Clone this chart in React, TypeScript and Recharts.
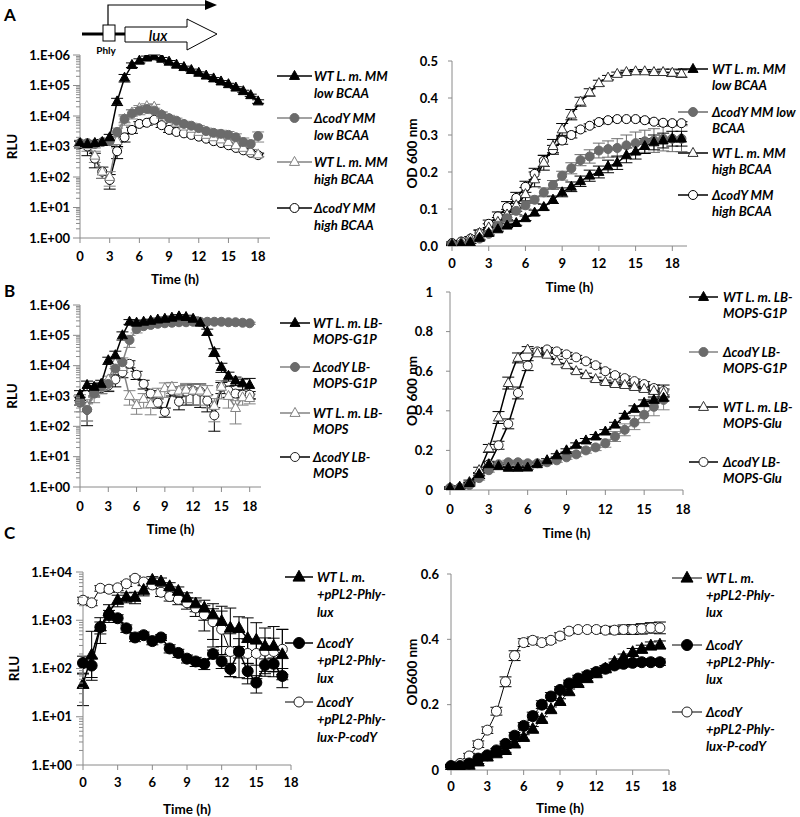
import React from "react";
import { LineChart, Line, XAxis, YAxis, ErrorBar } from "recharts";

// time points (h)
const timeA = [0, 0.75, 1.5, 2.25, 3, 3.75, 4.5, 5.25, 6, 6.75, 7.5, 8.25, 9, 9.75, 10.5, 11.25, 12, 12.75, 13.5, 14.25, 15, 15.75, 16.5, 17.25, 18];
const timeAOd = [0, 0.75, 1.5, 2.25, 3, 3.75, 4.5, 5.25, 6, 6.75, 7.5, 8.25, 9, 9.75, 10.5, 11.25, 12, 12.75, 13.5, 14.25, 15, 15.75, 16.5, 17.25, 18, 18.75];
const timeBOd = [0, 0.75, 1.5, 2.25, 3, 3.75, 4.5, 5.25, 6, 6.75, 7.5, 8.25, 9, 9.75, 10.5, 11.25, 12, 12.75, 13.5, 14.25, 15, 15.75, 16.5];
const timeC = [0, 0.75, 1.5, 2.25, 3, 3.75, 4.5, 5.25, 6, 6.75, 7.5, 8.25, 9, 9.75, 10.5, 11.25, 12, 12.75, 13.5, 14.25, 15, 15.75, 16.5, 17.25];

// A - RLU
const aRluWtLow = [1300, 1200, 1300, 1400, 2000, 30000, 180000, 470000, 650000, 820000, 900000, 750000, 600000, 480000, 400000, 320000, 260000, 210000, 170000, 135000, 110000, 85000, 65000, 48000, 30000];
const aRluCodyLow = [1300, 1300, 1200, 1400, 1500, 3000, 8000, 12000, 15000, 17000, 15000, 11000, 8500, 7000, 5500, 4800, 4000, 3200, 2800, 2600, 2400, 2000, 1400, 1200, 2200];
const aRluWtHigh = [1200, 1100, 500, 150, 100, 1500, 8000, 13000, 18000, 21000, 20000, 11000, 8000, 6000, 4500, 3800, 3000, 2400, 2000, 1700, 1400, 1100, 900, 700, 550];
const aRluCodyHigh = [1200, 1000, 400, 150, 80, 700, 2000, 3500, 5500, 6000, 7500, 5000, 3500, 3000, 2700, 2400, 2100, 1800, 1500, 1300, 1100, 900, 750, 620, 520];
const aErrWtLow = [200, 200, 200, 300, 500, 8000, 50000, 80000, 100000, 100000, 100000, 80000, 60000, 40000, 30000, 25000, 20000, 15000, 12000, 10000, 8000, 6000, 5000, 4000, 4000];
const aErrCodyLow = [300, 300, 300, 300, 400, 1000, 3000, 4000, 4000, 4000, 3000, 2500, 2000, 1500, 1200, 1000, 900, 800, 700, 800, 700, 600, 500, 400, 800];
const aErrWtHigh = [300, 400, 200, 60, 50, 600, 2000, 3000, 4000, 4000, 4000, 2500, 1500, 1000, 700, 600, 500, 400, 300, 250, 200, 150, 120, 100, 80];
const aErrCodyHigh = [300, 500, 200, 60, 40, 300, 600, 800, 1000, 1000, 1000, 800, 600, 400, 300, 300, 250, 200, 150, 150, 120, 100, 80, 70, 60];

// A - OD
const aOdWtLow = [0.003, 0.005, 0.01, 0.022, 0.035, 0.045, 0.055, 0.062, 0.075, 0.09, 0.105, 0.125, 0.145, 0.16, 0.175, 0.19, 0.2, 0.215, 0.225, 0.245, 0.255, 0.27, 0.28, 0.285, 0.29, 0.29];
const aOdCodyLow = [0.005, 0.005, 0.01, 0.02, 0.033, 0.055, 0.075, 0.095, 0.11, 0.125, 0.145, 0.165, 0.19, 0.21, 0.232, 0.242, 0.258, 0.262, 0.265, 0.272, 0.278, 0.283, 0.285, 0.29, 0.29, 0.29];
const aOdWtHigh = [0.005, 0.01, 0.02, 0.035, 0.05, 0.065, 0.085, 0.11, 0.14, 0.18, 0.225, 0.27, 0.315, 0.355, 0.39, 0.415, 0.44, 0.455, 0.465, 0.47, 0.472, 0.472, 0.47, 0.47, 0.468, 0.466];
const aOdCodyHigh = [0.008, 0.012, 0.02, 0.035, 0.06, 0.08, 0.105, 0.13, 0.16, 0.195, 0.23, 0.26, 0.285, 0.3, 0.315, 0.325, 0.335, 0.34, 0.343, 0.343, 0.343, 0.34, 0.336, 0.333, 0.332, 0.332];
const aOdErrWtLow = [0.002, 0.002, 0.003, 0.004, 0.005, 0.005, 0.005, 0.006, 0.006, 0.007, 0.008, 0.01, 0.012, 0.013, 0.014, 0.015, 0.016, 0.017, 0.018, 0.02, 0.02, 0.02, 0.02, 0.02, 0.02, 0.02];
const aOdErrCodyLow = [0.003, 0.003, 0.003, 0.005, 0.006, 0.008, 0.01, 0.01, 0.01, 0.01, 0.012, 0.012, 0.012, 0.015, 0.015, 0.018, 0.02, 0.022, 0.025, 0.028, 0.03, 0.03, 0.032, 0.033, 0.035, 0.035];
const aOdErrWtHigh = [0.003, 0.003, 0.005, 0.008, 0.01, 0.012, 0.014, 0.016, 0.018, 0.02, 0.02, 0.018, 0.016, 0.014, 0.012, 0.01, 0.008, 0.006, 0.005, 0.005, 0.005, 0.005, 0.006, 0.008, 0.01, 0.01];
const aOdErrCodyHigh = [0.003, 0.003, 0.005, 0.008, 0.01, 0.012, 0.015, 0.015, 0.015, 0.015, 0.015, 0.012, 0.01, 0.008, 0.006, 0.005, 0.005, 0.004, 0.004, 0.004, 0.004, 0.004, 0.004, 0.004, 0.004, 0.004];

// B - RLU
const bRluWtG1p = [1100, 2300, 2000, 2500, 15000, 22000, 100000, 280000, 260000, 280000, 300000, 330000, 350000, 380000, 420000, 400000, 350000, 260000, 130000, 28000, 9000, 4600, 3200, 2600, 2300];
const bRluCodyG1p = [600, 350, 1200, 2000, 2500, 8000, 13000, 70000, 160000, 200000, 220000, 240000, 250000, 260000, 270000, 270000, 280000, 280000, 280000, 280000, 280000, 270000, 270000, 260000, 250000];
const bRluWtMops = [800, 450, 1500, 2000, 3500, 12000, 9000, 1000, 500, 800, 540, 1200, 1800, 2000, 1500, 1600, 1500, 1500, 1300, 470, 2000, 1000, 400, 900, 850];
const bRluCodyMops = [700, 350, 1500, 1800, 2200, 3500, 6000, 11500, 5000, 2500, 1200, 600, 300, 1500, 650, 1400, 1500, 1400, 700, 230, 2000, 1500, 1200, 1100, 1100];
const bErrWtG1p = [400, 800, 600, 800, 4000, 8000, 30000, 50000, 40000, 40000, 40000, 40000, 50000, 50000, 60000, 60000, 50000, 50000, 30000, 8000, 3000, 1500, 1000, 1000, 1500];
const bErrCodyG1p = [300, 200, 600, 800, 1000, 4000, 5000, 30000, 40000, 30000, 20000, 20000, 20000, 20000, 20000, 20000, 20000, 20000, 20000, 20000, 20000, 20000, 20000, 20000, 20000];
const bErrWtMops = [300, 300, 600, 800, 1000, 4000, 3000, 500, 250, 400, 300, 600, 900, 800, 500, 1000, 1000, 1000, 900, 350, 1200, 600, 300, 400, 300];
const bErrCodyMops = [200, 250, 500, 600, 800, 1500, 2000, 3000, 1500, 800, 300, 200, 100, 500, 300, 900, 1000, 1100, 400, 180, 800, 600, 300, 300, 300];

// B - OD
const bOdWtG1p = [0.01, 0.015, 0.035, 0.08, 0.13, 0.12, 0.112, 0.112, 0.113, 0.13, 0.15, 0.175, 0.2, 0.228, 0.25, 0.27, 0.295, 0.33, 0.375, 0.41, 0.44, 0.455, 0.465];
const bOdCodyG1p = [0.01, 0.012, 0.025, 0.06, 0.1, 0.13, 0.14, 0.14, 0.135, 0.135, 0.14, 0.15, 0.165, 0.18, 0.2, 0.215, 0.236, 0.27, 0.304, 0.34, 0.38, 0.42, 0.455];
const bOdWtGlu = [0.01, 0.015, 0.04, 0.1, 0.21, 0.366, 0.54, 0.667, 0.709, 0.69, 0.683, 0.65, 0.63, 0.6, 0.58, 0.56, 0.545, 0.535, 0.53, 0.52, 0.51, 0.5, 0.49];
const bOdCodyGlu = [0.01, 0.01, 0.03, 0.07, 0.13, 0.226, 0.334, 0.49, 0.628, 0.7, 0.71, 0.7, 0.685, 0.67, 0.65, 0.63, 0.6, 0.58, 0.565, 0.55, 0.535, 0.515, 0.5];
const bOdErrWtG1p = [0.005, 0.005, 0.005, 0.008, 0.01, 0.008, 0.008, 0.008, 0.008, 0.008, 0.008, 0.008, 0.008, 0.01, 0.01, 0.01, 0.01, 0.012, 0.012, 0.015, 0.015, 0.015, 0.015];
const bOdErrCodyG1p = [0.005, 0.005, 0.008, 0.01, 0.01, 0.01, 0.01, 0.01, 0.01, 0.01, 0.01, 0.01, 0.01, 0.012, 0.014, 0.016, 0.02, 0.025, 0.03, 0.035, 0.04, 0.045, 0.05];
const bOdErrWtGlu = [0.005, 0.005, 0.01, 0.015, 0.02, 0.03, 0.03, 0.025, 0.015, 0.01, 0.01, 0.01, 0.01, 0.01, 0.01, 0.01, 0.01, 0.01, 0.01, 0.01, 0.01, 0.015, 0.02];
const bOdErrCodyGlu = [0.005, 0.005, 0.008, 0.012, 0.015, 0.02, 0.025, 0.03, 0.025, 0.015, 0.01, 0.01, 0.01, 0.01, 0.01, 0.01, 0.01, 0.01, 0.01, 0.01, 0.012, 0.015, 0.03];

// C - RLU
const cRluWt = [47, 190, 730, 1500, 2600, 3000, 3000, 4200, 6800, 6300, 5000, 4000, 2900, 2200, 1800, 1300, 950, 690, 680, 420, 390, 290, 290, 195];
const cRluCody = [130, 115, 720, 1300, 1100, 680, 440, 490, 370, 440, 260, 210, 160, 140, 125, 200, 140, 98, 225, 88, 51, 118, 125, 70];
const cRluComp = [2600, 2300, 4600, 4400, 4700, 5700, 7400, 6200, 5400, 3800, 3100, 2700, 2300, 1800, 1300, 930, 650, 225, 215, 205, 205, 230, 225, 250];
const cErrWt = [30, 400, 400, 600, 700, 700, 800, 1000, 1200, 1200, 1000, 900, 800, 700, 800, 900, 1000, 1100, 500, 700, 500, 400, 450, 450];
const cErrCody = [50, 50, 200, 300, 200, 120, 80, 80, 60, 60, 50, 40, 30, 30, 30, 40, 40, 30, 60, 40, 20, 40, 40, 30];
const cErrComp = [400, 300, 600, 600, 600, 700, 800, 800, 900, 700, 600, 600, 600, 600, 700, 800, 900, 300, 200, 200, 150, 200, 200, 400];

// C - OD
const cOdWt = [0.005, 0.005, 0.015, 0.025, 0.04, 0.05, 0.06, 0.08, 0.1, 0.125, 0.155, 0.185, 0.21, 0.24, 0.265, 0.28, 0.295, 0.31, 0.33, 0.345, 0.36, 0.37, 0.38, 0.383];
const cOdCody = [0.012, 0.012, 0.02, 0.035, 0.045, 0.06, 0.08, 0.105, 0.135, 0.165, 0.2, 0.225, 0.245, 0.265, 0.28, 0.29, 0.3, 0.31, 0.32, 0.325, 0.328, 0.33, 0.33, 0.33];
const cOdComp = [0.012, 0.02, 0.043, 0.079, 0.122, 0.18, 0.27, 0.35, 0.39, 0.397, 0.39, 0.397, 0.41, 0.425, 0.43, 0.43, 0.43, 0.428, 0.428, 0.43, 0.43, 0.432, 0.435, 0.435];
const cOdErrWt = [0.003, 0.003, 0.005, 0.005, 0.006, 0.006, 0.006, 0.007, 0.008, 0.008, 0.008, 0.008, 0.008, 0.008, 0.008, 0.008, 0.008, 0.008, 0.01, 0.01, 0.012, 0.012, 0.012, 0.012];
const cOdErrCody = [0.003, 0.003, 0.005, 0.005, 0.006, 0.006, 0.008, 0.01, 0.01, 0.012, 0.012, 0.012, 0.01, 0.01, 0.01, 0.01, 0.01, 0.01, 0.01, 0.01, 0.01, 0.01, 0.01, 0.01];
const cOdErrComp = [0.005, 0.005, 0.008, 0.01, 0.01, 0.012, 0.015, 0.015, 0.012, 0.01, 0.008, 0.008, 0.01, 0.008, 0.006, 0.006, 0.008, 0.01, 0.012, 0.014, 0.015, 0.016, 0.016, 0.018];

const timeTicks = [0, 3, 6, 9, 12, 15, 18];
const odTicksA = [0, 0.1, 0.2, 0.3, 0.4, 0.5];
const odTicksB = [0, 0.2, 0.4, 0.6, 0.8, 1];
const odTicksC = [0, 0.2, 0.4, 0.6];

// decade ticks plus the 2..9 minor ticks excel draws on a log axis
function logTicks(decades: number) {
  const out: number[] = [];
  for (let d = 0; d < decades; d++) {
    for (let m = 1; m < 10; m++) out.push(m * Math.pow(10, d));
  }
  out.push(Math.pow(10, decades));
  return out;
}

const FONT = "Lato, 'Open Sans', sans-serif";
const AXIS = "#8a8a8a";
const GREY = "#6b6b6b";
const GREY_LINE = "#838383";

type Shape = "tri" | "circle";
interface SeriesDef {
  key: string;
  values: number[];
  err?: number[];
  shape: Shape;
  filled: boolean;
  color: string;
  line: string;
  size: number;
  width?: number;
  smooth?: boolean;
  label: string[];
}

function drawMarker(x: number, y: number, s: SeriesDef) {
  const fill = s.filled ? s.color : "#fff";
  if (s.shape === "tri") {
    const h = s.size * 0.9;
    const pts = `${x},${y - h * 0.62} ${x - s.size / 2},${y + h * 0.38} ${x + s.size / 2},${y + h * 0.38}`;
    return <polygon points={pts} fill={fill} stroke={s.color} strokeWidth={1} />;
  }
  return <circle cx={x} cy={y} r={s.size / 2} fill={fill} stroke={s.color} strokeWidth={1} />;
}

const dotFor = (s: SeriesDef) => (p: any) => {
  const k = `${s.key}-${p.index}`;
  if (p.cx == null || p.cy == null) return <g key={k} />;
  return <g key={k}>{drawMarker(p.cx, p.cy, s)}</g>;
};

interface PanelProps {
  chartLeft: number;
  x0: number; x1: number; y0: number; y1: number;
  xMax: number;
  times: number[];
  series: SeriesDef[];
  log?: boolean;
  yDomain: [number, number];
  yTicks: number[];
  yFmt: (v: number) => string;
  yLabel: string;
  yLabelX: number;
  yTickSize: number;
  yLabelEnd: number;
  xLabelGap: number;
  xh: number;
}

const tickStyle = { fill: "#000", fontSize: 13, fontWeight: 700, fontFamily: FONT };
const titleStyle = { fill: "#000", fontSize: 13.5, fontWeight: 700, fontFamily: FONT, textAnchor: "middle" as const };

function Panel(p: PanelProps) {
  const top = p.y0 - 10;
  const width = p.x1 - p.chartLeft + 8;
  const height = p.y1 - p.y0 + 10 + p.xh + 8;
  const yw = p.x0 - p.chartLeft;
  const data = p.times.map((t, i) => {
    const row: Record<string, any> = { t };
    p.series.forEach((s) => {
      const v = s.values[i];
      row[s.key] = v;
      if (s.err) {
        const e = s.err[i];
        // on the log axis keep the lower arm above zero
        row[`${s.key}_e`] = p.log ? [Math.min(e, v * 0.7), e] : e;
      }
    });
    return row;
  });
  const drawOrder = [...p.series].reverse();

  const logTick = (tp: any) => {
    const v = tp.payload.value;
    const lg = Math.log10(v);
    const major = Math.abs(lg - Math.round(lg)) < 1e-6;
    return (
      <g>
        <line x1={yw - (major ? 7 : 4)} x2={yw} y1={tp.y} y2={tp.y} stroke={AXIS} strokeWidth={1} />
        {major && (
          <text x={p.yLabelEnd - p.chartLeft} y={tp.y} dy="0.35em" textAnchor="end" {...tickStyle}>
            {p.yFmt(v)}
          </text>
        )}
      </g>
    );
  };

  return (
    <div style={{ position: "absolute", left: p.chartLeft, top }}>
      <LineChart width={width} height={height} data={data} margin={{ top: 10, right: 8, left: 0, bottom: 8 }}>
        <XAxis
          type="number"
          dataKey="t"
          domain={[0, p.xMax]}
          ticks={timeTicks}
          height={p.xh}
          stroke={AXIS}
          tickSize={5}
          tickMargin={p.xLabelGap - 10}
          tick={tickStyle}
          label={{ value: "Time (h)", position: "insideBottom", offset: 0, style: titleStyle }}
        />
        {p.log ? (
          <YAxis
            type="number"
            scale="log"
            domain={p.yDomain}
            ticks={p.yTicks}
            interval={0}
            allowDataOverflow
            width={yw}
            stroke={AXIS}
            tickLine={false}
            tick={logTick}
            label={{ value: p.yLabel, angle: -90, position: "insideLeft", offset: p.yLabelX - p.chartLeft, style: titleStyle }}
          />
        ) : (
          <YAxis
            type="number"
            domain={p.yDomain}
            ticks={p.yTicks}
            interval={0}
            allowDataOverflow
            width={yw}
            stroke={AXIS}
            tickSize={p.yTickSize}
            tickMargin={p.x0 - p.yTickSize - p.yLabelEnd}
            tickFormatter={p.yFmt}
            tick={tickStyle}
            label={{ value: p.yLabel, angle: -90, position: "insideLeft", offset: p.yLabelX - p.chartLeft, style: titleStyle }}
          />
        )}
        {drawOrder.map((s) => (
          <Line
            key={s.key}
            dataKey={s.key}
            type={s.smooth ? "monotone" : "linear"}
            stroke={s.line}
            strokeWidth={s.width ?? 1.5}
            dot={dotFor(s)}
            activeDot={false}
            isAnimationActive={false}
          >
            {s.err && (
              <ErrorBar
                dataKey={`${s.key}_e`}
                direction="y"
                width={6}
                stroke={s.line}
                strokeWidth={1}
                isAnimationActive={false}
              />
            )}
          </Line>
        ))}
      </LineChart>
    </div>
  );
}

interface LegendSpec {
  series: SeriesDef[];
  ys: number[];
  lineX0: number;
  lineX1: number;
  textX: number;
  gap: number;
  fontSize: number;
}

function LegendBlock({ l }: { l: LegendSpec }) {
  const mx = (l.lineX0 + l.lineX1) / 2;
  return (
    <g>
      {l.series.map((s, i) => (
        <g key={s.key}>
          <line x1={l.lineX0} x2={l.lineX1} y1={l.ys[i]} y2={l.ys[i]} stroke={s.line} strokeWidth={s.width ?? 1.5} />
          {drawMarker(mx, l.ys[i], s)}
          {s.label.map((txt, j) => (
            <text
              key={j}
              x={l.textX}
              y={l.ys[i] + j * l.gap}
              dy="0.35em"
              fontSize={l.fontSize}
              fontWeight={700}
              fontStyle="italic"
              fontFamily={FONT}
              fill="#000"
            >
              {txt}
            </text>
          ))}
        </g>
      ))}
    </g>
  );
}

const logFmt = (v: number) => `1.E+0${Math.round(Math.log10(v))}`;

// series definitions
const sAWtLow: SeriesDef = { key: "wtLow", values: aRluWtLow, err: aErrWtLow, shape: "tri", filled: true, color: "#000", line: "#000", size: 10, label: ["WT L. m. MM", "low BCAA"] };
const sACodyLow: SeriesDef = { key: "codyLow", values: aRluCodyLow, err: aErrCodyLow, shape: "circle", filled: true, color: GREY, line: GREY_LINE, size: 9, label: ["\u0394codY MM", "low BCAA"] };
const sAWtHigh: SeriesDef = { key: "wtHigh", values: aRluWtHigh, err: aErrWtHigh, shape: "tri", filled: false, color: GREY_LINE, line: GREY_LINE, size: 10, label: ["WT L. m. MM", "high BCAA"] };
const sACodyHigh: SeriesDef = { key: "codyHigh", values: aRluCodyHigh, err: aErrCodyHigh, shape: "circle", filled: false, color: "#000", line: "#000", size: 9, label: ["\u0394codY MM", "high BCAA"] };

const sAOdWtLow: SeriesDef = { ...sAWtLow, values: aOdWtLow, err: aOdErrWtLow, smooth: true };
const sAOdCodyLow: SeriesDef = { ...sACodyLow, values: aOdCodyLow, err: aOdErrCodyLow, smooth: true, line: GREY, label: ["\u0394codY MM low", "BCAA"] };
const sAOdWtHigh: SeriesDef = { ...sAWtHigh, values: aOdWtHigh, err: aOdErrWtHigh, smooth: true, color: "#333", line: "#000" };
const sAOdCodyHigh: SeriesDef = { ...sACodyHigh, values: aOdCodyHigh, err: aOdErrCodyHigh, smooth: true };

const sBWtG1p: SeriesDef = { key: "wtG1p", values: bRluWtG1p, err: bErrWtG1p, shape: "tri", filled: true, color: "#000", line: "#000", size: 10, label: ["WT L. m. LB-", "MOPS-G1P"] };
const sBCodyG1p: SeriesDef = { key: "codyG1p", values: bRluCodyG1p, err: bErrCodyG1p, shape: "circle", filled: true, color: GREY, line: GREY_LINE, size: 9, label: ["\u0394codY LB-", "MOPS-G1P"] };
const sBWtMops: SeriesDef = { key: "wtMops", values: bRluWtMops, err: bErrWtMops, shape: "tri", filled: false, color: GREY_LINE, line: GREY_LINE, size: 10, label: ["WT L. m. LB-", "MOPS"] };
const sBCodyMops: SeriesDef = { key: "codyMops", values: bRluCodyMops, err: bErrCodyMops, shape: "circle", filled: false, color: "#222", line: "#000", size: 9, label: ["\u0394codY LB-", "MOPS"] };

const sBOdWtG1p: SeriesDef = { ...sBWtG1p, values: bOdWtG1p, err: bOdErrWtG1p, smooth: true };
const sBOdCodyG1p: SeriesDef = { ...sBCodyG1p, values: bOdCodyG1p, err: bOdErrCodyG1p, smooth: true };
const sBOdWtGlu: SeriesDef = { key: "wtGlu", values: bOdWtGlu, err: bOdErrWtGlu, shape: "tri", filled: false, color: "#333", line: "#000", size: 10, smooth: true, label: ["WT L. m. LB-", "MOPS-Glu"] };
const sBOdCodyGlu: SeriesDef = { key: "codyGlu", values: bOdCodyGlu, err: bOdErrCodyGlu, shape: "circle", filled: false, color: "#222", line: "#000", size: 9, smooth: true, label: ["\u0394codY LB-", "MOPS-Glu"] };

const sCWt: SeriesDef = { key: "wt", values: cRluWt, err: cErrWt, shape: "tri", filled: true, color: "#000", line: "#000", size: 12, label: ["WT L. m.", "+pPL2-Phly-", "lux"] };
const sCCody: SeriesDef = { key: "cody", values: cRluCody, err: cErrCody, shape: "circle", filled: true, color: "#000", line: "#000", size: 11, label: ["\u0394codY", "+pPL2-Phly-", "lux"] };
const sCComp: SeriesDef = { key: "comp", values: cRluComp, err: cErrComp, shape: "circle", filled: false, color: "#222", line: "#000", size: 10, width: 1, label: ["\u0394codY", "+pPL2-Phly-", "lux-P-codY"] };

const sCOdWt: SeriesDef = { ...sCWt, values: cOdWt, err: cOdErrWt, smooth: true, width: 1 };
const sCOdCody: SeriesDef = { ...sCCody, values: cOdCody, err: cOdErrCody, smooth: true, width: 1 };
const sCOdComp: SeriesDef = { ...sCComp, values: cOdComp, err: cOdErrComp, smooth: true };

const legends: LegendSpec[] = [
  { series: [sAWtLow, sACodyLow, sAWtHigh, sACodyHigh], ys: [76, 118, 162, 208], lineX0: 277, lineX1: 312, textX: 314, gap: 17, fontSize: 13 },
  { series: [sAOdWtLow, sAOdCodyLow, sAOdWtHigh, sAOdCodyHigh], ys: [69, 112, 153, 195], lineX0: 678, lineX1: 708, textX: 712, gap: 16, fontSize: 13 },
  { series: [sBWtG1p, sBCodyG1p, sBWtMops, sBCodyMops], ys: [323, 367, 413, 457], lineX0: 280, lineX1: 310, textX: 313, gap: 16, fontSize: 13 },
  { series: [sBOdWtG1p, sBOdCodyG1p, sBOdWtGlu, sBOdCodyGlu], ys: [297, 352, 407, 462], lineX0: 689, lineX1: 718, textX: 723, gap: 16, fontSize: 13 },
  { series: [sCWt, sCCody, sCComp], ys: [577, 643, 702], lineX0: 285, lineX1: 313, textX: 317, gap: 17.5, fontSize: 13 },
  { series: [sCOdWt, sCOdCody, sCOdComp], ys: [578, 645, 712], lineX0: 672, lineX1: 702, textX: 706, gap: 17, fontSize: 13 },
];

export default function App() {
  return (
    <div style={{ position: "absolute", left: 0, top: 0, width: 800, height: 817, background: "#fff", fontFamily: FONT }}>
      <Panel chartLeft={0} x0={80} x1={270} y0={55} y1={238} xMax={19.2} times={timeA}
        series={[sAWtLow, sACodyLow, sAWtHigh, sACodyHigh]} log yDomain={[1, 1000000]} yTicks={logTicks(6)}
        yFmt={logFmt} yLabel="RLU" yLabelX={12} yTickSize={6} yLabelEnd={70} xLabelGap={19} xh={46} />
      <Panel chartLeft={400} x0={452} x1={687} y0={61} y1={246} xMax={19.2} times={timeAOd}
        series={[sAOdWtLow, sAOdCodyLow, sAOdWtHigh, sAOdCodyHigh]} yDomain={[0, 0.5]} yTicks={odTicksA}
        yFmt={(v) => v.toFixed(1)} yLabel="OD 600 nm" yLabelX={412} yTickSize={4} yLabelEnd={438} xLabelGap={18} xh={46} />
      <Panel chartLeft={0} x0={80} x1={261} y0={305} y1={487} xMax={19.2} times={timeA}
        series={[sBWtG1p, sBCodyG1p, sBWtMops, sBCodyMops]} log yDomain={[1, 1000000]} yTicks={logTicks(6)}
        yFmt={logFmt} yLabel="RLU" yLabelX={12} yTickSize={6} yLabelEnd={70} xLabelGap={20} xh={47} />
      <Panel chartLeft={400} x0={450} x1={683} y0={292} y1={490} xMax={18} times={timeBOd}
        series={[sBOdWtG1p, sBOdCodyG1p, sBOdWtGlu, sBOdCodyGlu]} yDomain={[0, 1]} yTicks={odTicksB}
        yFmt={(v) => String(v)} yLabel="OD 600 nm" yLabelX={412} yTickSize={4} yLabelEnd={433} xLabelGap={20} xh={48} />
      <Panel chartLeft={0} x0={83} x1={291} y0={572} y1={765} xMax={18} times={timeC}
        series={[sCWt, sCCody, sCComp]} log yDomain={[1, 10000]} yTicks={logTicks(4)}
        yFmt={logFmt} yLabel="RLU" yLabelX={14} yTickSize={6} yLabelEnd={72} xLabelGap={18} xh={49} />
      <Panel chartLeft={400} x0={451} x1={669} y0={574} y1={770} xMax={18} times={timeC}
        series={[sCOdWt, sCOdCody, sCOdComp]} yDomain={[0, 0.6]} yTicks={odTicksC}
        yFmt={(v) => String(v)} yLabel="OD600 nm" yLabelX={412} yTickSize={4} yLabelEnd={439} xLabelGap={17} xh={43} />

      <svg width={800} height={817} style={{ position: "absolute", left: 0, top: 0, pointerEvents: "none" }}>
        {/* panel letters */}
        <text x={4} y={21} fontSize={17} fontWeight={700} fontFamily={FONT}>A</text>
        <text x={4} y={297} fontSize={17} fontWeight={700} fontFamily={FONT}>B</text>
        <text x={4} y={539} fontSize={17} fontWeight={700} fontFamily={FONT}>C</text>

        {/* Phly-lux construct */}
        <line x1={82} y1={34} x2={103} y2={34} stroke="#000" strokeWidth={3} />
        <line x1={115} y1={34} x2={125} y2={34} stroke="#000" strokeWidth={3} />
        <rect x={103} y={25} width={12} height={16} fill="#fff" stroke="#000" strokeWidth={1} />
        <polyline points="108,25 108,5 206,5" fill="none" stroke="#000" strokeWidth={1.2} />
        <polygon points="205,0 217,5 205,10" fill="#000" />
        <polygon points="125,27 187,27 187,19 217,34 187,50 187,42 125,42" fill="#fff" stroke="#000" strokeWidth={1} />
        <text x={158} y={41} textAnchor="middle" fontSize={15} fontStyle="italic" fontWeight={600} fontFamily={FONT}>lux</text>
        <text x={106} y={54} textAnchor="middle" fontSize={10} fontWeight={700} fontFamily={FONT}>Phly</text>

        {legends.map((l, i) => <LegendBlock key={i} l={l} />)}
      </svg>
    </div>
  );
}
